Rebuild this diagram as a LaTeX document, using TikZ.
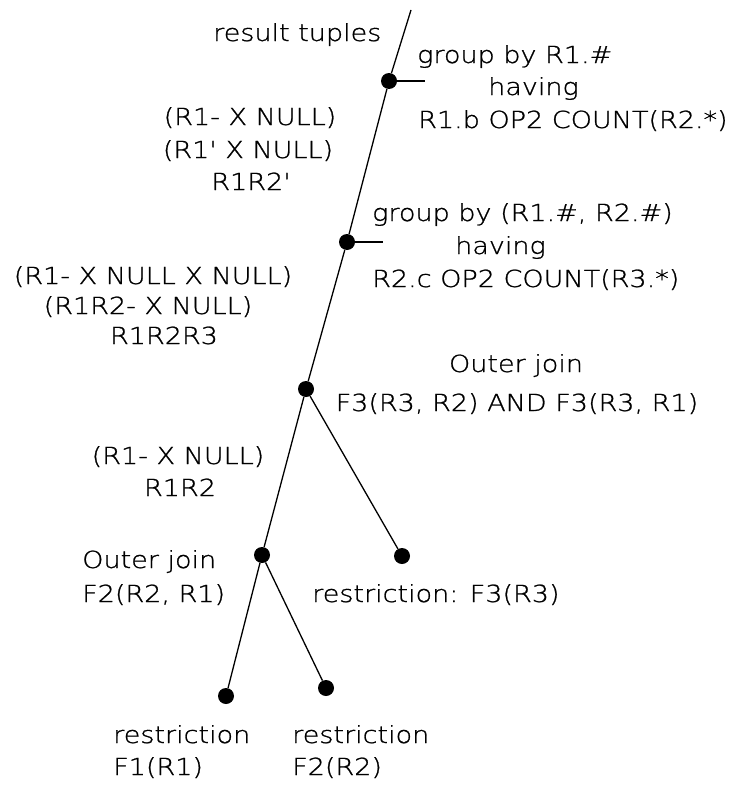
\documentclass[tikz,border=0pt]{standalone}
\usepackage{fontspec}
% wide, low, thin sans face for all labels
\newfontfamily\pixfont{DejaVu Sans}[UprightFont=* ExtraLight,FakeStretch=1.15,FakeBold=1,Ligatures=TeXOff]
\begin{document}
\begin{tikzpicture}[x=1pt,y=-1pt,
  txt/.style={inner sep=0pt,anchor=base,font=\pixfont\fontsize{23.5}{32}\selectfont},
  txtl/.style={txt,anchor=base west},
  dot/.style={circle,fill=black,inner sep=0pt,minimum size=16pt},
  edge/.style={line width=1.3pt}]
\useasboundingbox (0,0) rectangle (735,787);

% tree joints
\coordinate (top) at (411,10);
\node[dot] (g1) at (389,81) {};
\node[dot] (g2) at (347,242) {};
\node[dot] (oj1) at (306,389) {};
\node[dot] (oj2) at (262,555) {};
\node[dot] (r3) at (402,556) {};
\node[dot] (r1) at (226,696) {};
\node[dot] (r2) at (326,688) {};
\coordinate (t1) at (425,81);
\coordinate (t2) at (383,242);

% connectors
\draw[edge] (top) -- (g1) -- (g2) -- (oj1) -- (oj2) -- (r1);
\draw[edge] (oj1) -- (r3);
\draw[edge] (oj2) -- (r2);
\draw[edge] (g1.center) -- (t1);
\draw[edge] (g2.center) -- (t2);

% labels
\node[txtl] (lres) at (213,41) {result tuples};

\node[txtl] (lg1a) at (417,63) {group by R1.\#};
\node[txtl] (lg1b) at (488,95) {having};
\node[txtl] (lg1c) at (418,128) {R1.b OP2 COUNT(R2.*)};

\node[txt] (lt1a) at (250,125) {(R1- X NULL)};
\node[txt] (lt1b) at (248,158) {(R1' X NULL)};
\node[txt] (lt1c) at (251,190) {R1R2'};

\node[txtl] (lg2a) at (372,221) {group by (R1.\#, R2.\#)};
\node[txtl] (lg2b) at (455,254) {having};
\node[txtl] (lg2c) at (372,287) {R2.c OP2 COUNT(R3.*)};

\node[txt] (lt2a) at (153,284) {(R1- X NULL X NULL)};
\node[txt] (lt2b) at (148,314) {(R1R2- X NULL)};
\node[txt] (lt2c) at (164,344) {R1R2R3};

\node[txt] (loj1a) at (516,372) {Outer join};
\node[txt] (loj1b) at (517,411) {F3(R3, R2) AND F3(R3, R1)};

\node[txt] (lt3a) at (178,464) {(R1- X NULL)};
\node[txt] (lt3b) at (180,496) {R1R2};

\node[txtl] (loj2a) at (82,568) {Outer join};
\node[txtl] (loj2b) at (82,602) {F2(R2, R1)};

\node[txtl] (lr3) at (312,602) {restriction: F3(R3)};

\node[txtl] (lr1a) at (113,743) {restriction};
\node[txtl] (lr1b) at (113,775) {F1(R1)};
\node[txtl] (lr2a) at (292,743) {restriction};
\node[txtl] (lr2b) at (292,775) {F2(R2)};
\end{tikzpicture}
\end{document}
